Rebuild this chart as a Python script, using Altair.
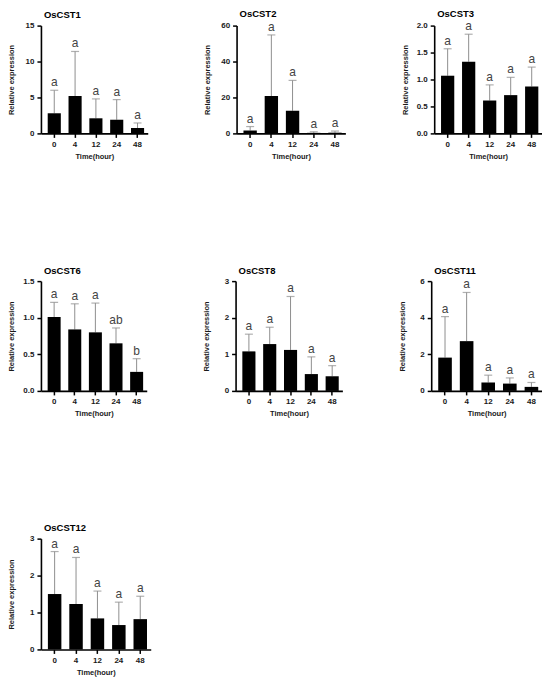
import altair as alt
import pandas as pd

times = ["0", "4", "12", "24", "48"]

genes = ["OsCST1", "OsCST2", "OsCST3", "OsCST6", "OsCST8", "OsCST11", "OsCST12"]

mean_cst1 = [2.8, 5.2, 2.1, 1.9, 0.75]
upper_cst1 = [6.0, 11.4, 4.8, 4.7, 1.45]
letters_cst1 = ["a", "a", "a", "a", "a"]

mean_cst2 = [1.6, 20.8, 12.6, 0.3, 0.4]
upper_cst2 = [3.8, 54.8, 29.5, 0.9, 1.3]
letters_cst2 = ["a", "a", "a", "a", "a"]

mean_cst3 = [1.07, 1.33, 0.61, 0.71, 0.87]
upper_cst3 = [1.57, 1.84, 0.90, 1.04, 1.23]
letters_cst3 = ["a", "a", "a", "a", "a"]

mean_cst6 = [1.01, 0.84, 0.80, 0.65, 0.26]
upper_cst6 = [1.21, 1.19, 1.20, 0.86, 0.44]
letters_cst6 = ["a", "a", "a", "ab", "b"]

mean_cst8 = [1.08, 1.28, 1.12, 0.46, 0.40]
upper_cst8 = [1.55, 1.74, 2.58, 0.93, 0.69]
letters_cst8 = ["a", "a", "a", "a", "a"]

mean_cst11 = [1.82, 2.72, 0.46, 0.40, 0.22]
upper_cst11 = [4.06, 5.38, 0.86, 0.71, 0.46]
letters_cst11 = ["a", "a", "a", "a", "a"]

mean_cst12 = [1.50, 1.23, 0.84, 0.66, 0.82]
upper_cst12 = [2.65, 2.49, 1.58, 1.28, 1.44]
letters_cst12 = ["a", "a", "a", "a", "a"]

y_ticks_cst1 = [0, 5, 10, 15]
y_ticks_cst2 = [0, 20, 40, 60]
y_ticks_cst3 = [0, 0.5, 1.0, 1.5, 2.0]
y_ticks_cst6 = [0, 0.5, 1.0, 1.5]
y_ticks_cst8 = [0, 1, 2, 3]
y_ticks_cst11 = [0, 2, 4, 6]
y_ticks_cst12 = [0, 1, 2, 3]

FONT = "Liberation Sans"
ERR = "#8f8f8f"


def panel(name, mean, upper, letters, ticks, fmt, w, h):
    df = pd.DataFrame({"time": times, "mean": mean, "upper": upper, "letter": letters})
    x = alt.X(
        "time:N",
        sort=times,
        title="Time(hour)",
        scale=alt.Scale(paddingInner=0.37, paddingOuter=0.25, align=0.65),
        axis=alt.Axis(labelAngle=0),
    )
    yscale = alt.Scale(domain=[ticks[0], ticks[-1]], nice=False, zero=True)
    yaxis = alt.Axis(values=ticks, format=fmt)

    def yenc(field):
        return alt.Y(field, title="Relative expression", scale=yscale, axis=yaxis)

    base = alt.Chart(df)
    err = base.mark_rule(color=ERR, strokeWidth=1).encode(
        x=x, y=yenc("mean:Q"), y2="upper:Q"
    )
    cap = base.mark_tick(color=ERR, thickness=1.2, size=8, orient="horizontal").encode(
        x=x, y=yenc("upper:Q")
    )
    bars = base.mark_bar(color="black").encode(x=x, y=yenc("mean:Q"))
    txt = base.mark_text(
        baseline="alphabetic", dy=-4, fontSize=12, font=FONT, color="#444444"
    ).encode(x=x, y=yenc("upper:Q"), text="letter:N")
    return alt.layer(err, cap, bars, txt).properties(
        width=w,
        height=h,
        title=alt.TitleParams(
            name, anchor="start", frame="group", dx=3, fontSize=9.5,
            fontWeight="bold", font=FONT, color="black", offset=2,
        ),
    )


p1 = panel(genes[0], mean_cst1, upper_cst1, letters_cst1, y_ticks_cst1, "d", 107, 108)
p2 = panel(genes[1], mean_cst2, upper_cst2, letters_cst2, y_ticks_cst2, "d", 109, 108)
p3 = panel(genes[2], mean_cst3, upper_cst3, letters_cst3, y_ticks_cst3, ".1f", 108, 108)
p6 = panel(genes[3], mean_cst6, upper_cst6, letters_cst6, y_ticks_cst6, ".1f", 106, 110)
p8 = panel(genes[4], mean_cst8, upper_cst8, letters_cst8, y_ticks_cst8, "d", 107, 110)
p11 = panel(genes[5], mean_cst11, upper_cst11, letters_cst11, y_ticks_cst11, "d", 111, 110)
p12 = panel(genes[6], mean_cst12, upper_cst12, letters_cst12, y_ticks_cst12, "d", 110, 111)

row1 = alt.hconcat(p1, p2, p3, spacing=56)
row2 = alt.hconcat(p6, p8, p11, spacing=56)
row3 = alt.hconcat(p12, spacing=56)

top_rows = alt.vconcat(row1, row2, spacing=105)

chart = (
    alt.vconcat(top_rows, row3, spacing=105)
    .properties(padding=0, background="white")
    .configure_view(stroke=None)
    .configure_axis(
        domainColor="black",
        domainWidth=1.6,
        tickColor="black",
        tickWidth=1.5,
        tickSize=4,
        labelPadding=3,
        labelFont=FONT,
        labelFontSize=8,
        labelFontWeight="bold",
        labelColor="#1a1a1a",
        titleFont=FONT,
        titleFontSize=7.5,
        titleFontWeight="bold",
        titleColor="#1a1a1a",
        grid=False,
    )
    .configure_axisY(minExtent=19, maxExtent=19, titlePadding=6)
    .configure_axisX(titlePadding=4)
)

chart.save("out.html", embed_options={"renderer": "svg", "actions": False})
